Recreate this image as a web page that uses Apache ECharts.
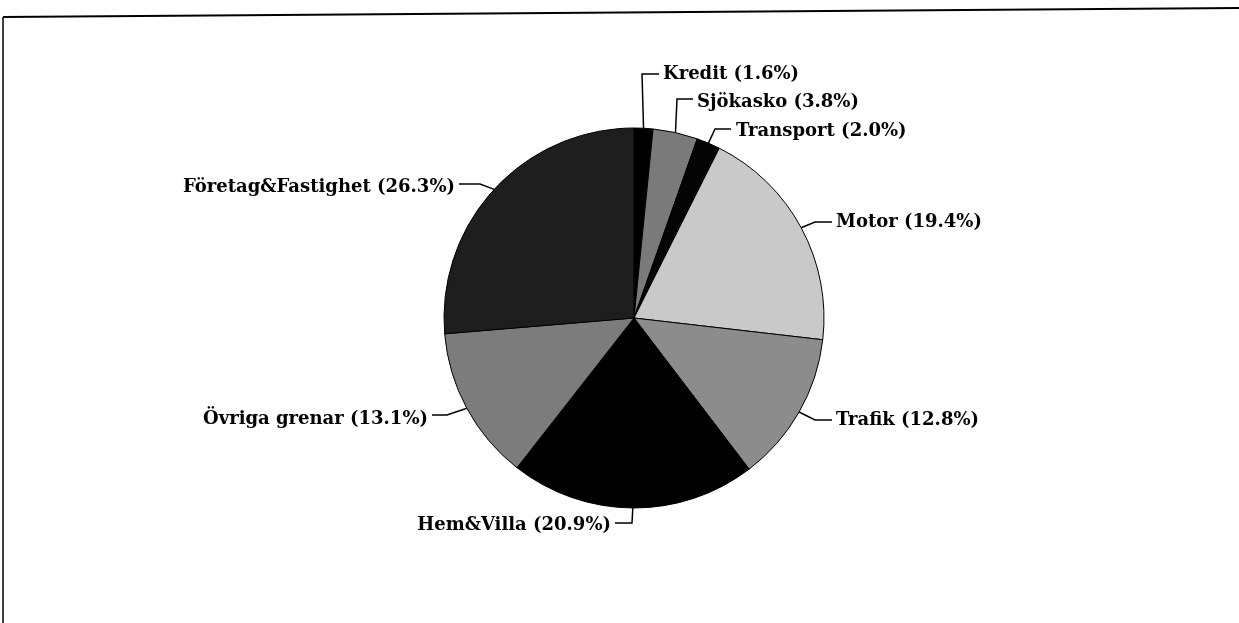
<!DOCTYPE html>
<html><head><meta charset="utf-8">
<script src="https://cdn.jsdelivr.net/npm/echarts@6/dist/echarts.min.js"></script>
<style>html,body{margin:0;padding:0;background:#fff}#c{width:1239px;height:623px}</style>
</head><body><div id="c"></div>
<script>
const categories = ['Kredit','Sjökasko','Transport','Motor','Trafik','Hem&Villa','Övriga grenar','Företag&Fastighet'];
const shares = [1.6, 3.8, 2.0, 19.4, 12.8, 20.9, 13.1, 26.3];
const sliceColors = ['#000000','#7a7a7a','#050505','#c9c9c9','#8c8c8c','#000000','#7c7c7c','#1e1e1e'];
// label anchor: [x, y, align, elbowX, elbowY, lineEndX]
const labelSpots = [
  [663, 74, 'left', 642, 74, 659],
  [697, 102, 'left', 677, 99, 693],
  [736, 131, 'left', 715, 129, 731],
  [836, 222, 'left', 815, 222, 832],
  [836, 420, 'left', 815, 420, 832],
  [611, 525, 'right', 632, 523, 615],
  [428, 419, 'right', 447, 415, 432],
  [455, 187, 'right', 480, 184, 459]
];
const chart = echarts.init(document.getElementById('c'), null, {renderer:'canvas'});
chart.setOption({
  animation:false,
  backgroundColor:'#fff',
  graphic:[
    {type:'line', shape:{x1:3,y1:17,x2:1239,y2:8}, style:{stroke:'#000', lineWidth:2}},
    {type:'line', shape:{x1:3,y1:17,x2:3,y2:623}, style:{stroke:'#000', lineWidth:1.5}}
  ],
  series:[{
    type:'pie',
    center:[634,318],
    radius:190,
    startAngle:90,
    clockwise:true,
    data: categories.map((c,i)=>({name:c, value:shares[i], itemStyle:{color:sliceColors[i]}})),
    itemStyle:{borderColor:'#000', borderWidth:1},
    label:{
      show:true, position:'outside',
      formatter: p => p.name + ' (' + p.value.toFixed(1) + '%)',
      fontFamily:'DejaVu Serif', fontSize:18, fontWeight:'bold', color:'#000'
    },
    labelLine:{show:true, length:15, length2:15, lineStyle:{color:'#000', width:1.5}},
    labelLayout: function(params){
      const s = labelSpots[params.dataIndex];
      const p0 = params.labelLinePoints ? params.labelLinePoints[0] : [s[3], s[4]];
      return {
        x: s[0], y: s[1], align: s[2], verticalAlign:'middle',
        labelLinePoints: [p0, [s[3], s[4]], [s[5], s[4]]]
      };
    }
  }]
});
</script></body></html>
